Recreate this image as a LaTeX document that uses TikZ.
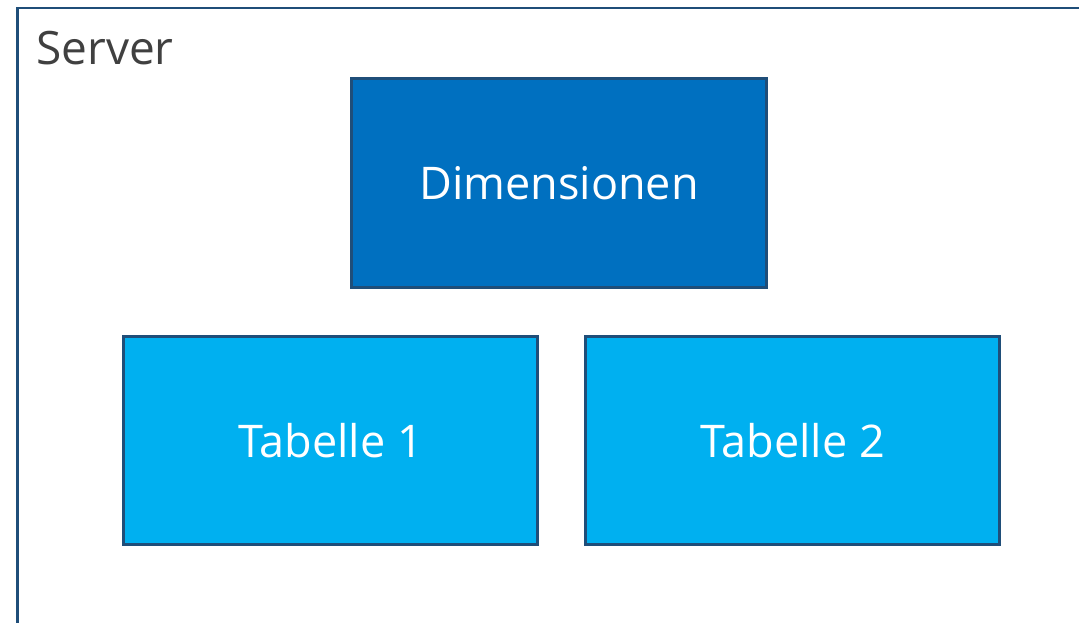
\documentclass[tikz,border=0pt]{standalone}
\usepackage{fontspec}
\setmainfont{Open Sans}
\definecolor{frameblue}{RGB}{31,78,121}
\definecolor{dimblue}{RGB}{0,112,192}
\definecolor{tabblue}{RGB}{0,176,240}
\definecolor{txtgray}{RGB}{64,64,64}
\begin{document}
\begin{tikzpicture}[x=1pt,y=-1pt,
  boxstyle/.style={draw=frameblue,line width=2.6pt,inner sep=0pt,font=\fontsize{45}{50}\selectfont,text=white},
]
\useasboundingbox (0,0) rectangle (1079,623);
\clip (0,0) rectangle (1079,623);
\draw[frameblue,line width=2.8pt] (17.5,8) rectangle (1095,640);
\node[anchor=base west,text=txtgray,font=\fontsize{46}{50}\selectfont,inner sep=0pt] (server) at (36,65) {Server};
\node[boxstyle,fill=dimblue,minimum width=415pt,minimum height=209pt] (dim) at (559,183) {Dimensionen};
\node[boxstyle,fill=tabblue,minimum width=414pt,minimum height=208pt] (t1) at (330.5,440.5) {Tabelle 1};
\node[boxstyle,fill=tabblue,minimum width=414pt,minimum height=208pt] (t2) at (792.5,440.5) {Tabelle 2};
\end{tikzpicture}
\end{document}
